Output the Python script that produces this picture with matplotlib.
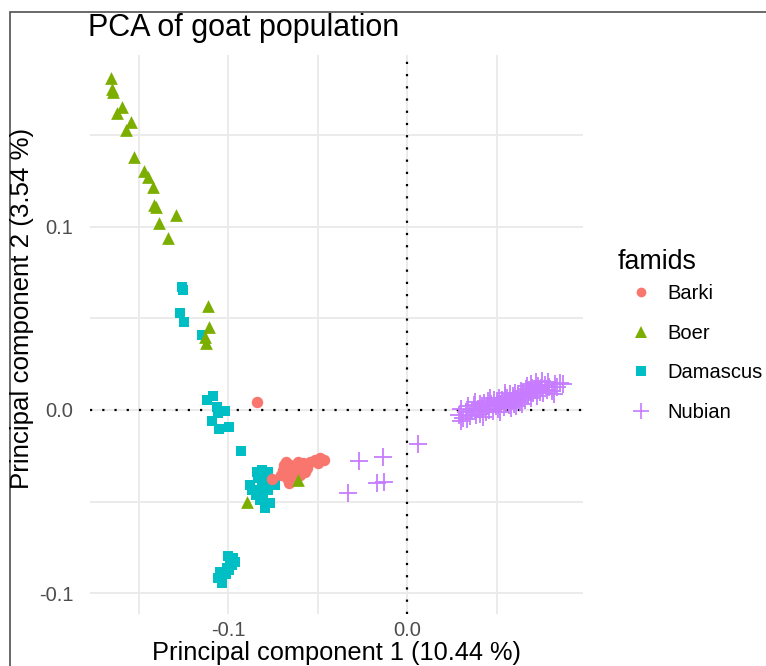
import matplotlib
matplotlib.use("Agg")
import matplotlib.pyplot as plt
from matplotlib.lines import Line2D
from matplotlib.patches import Rectangle

plt.rcParams['font.family'] = ['Liberation Sans', 'DejaVu Sans']

title = "PCA of goat population"
xlabel = "Principal component 1 (10.44 %)"
ylabel = "Principal component 2 (3.54 %)"
legend_title = "famids"
groups = ["Barki", "Boer", "Damascus", "Nubian"]
colors = {"Barki": "#F8766D", "Boer": "#7CAE00", "Damascus": "#00BFC4", "Nubian": "#C77CFF"}

xticks = [-0.1, 0.0]
xtick_labels = ["-0.1", "0.0"]
yticks = [-0.1, 0.0, 0.1]
ytick_labels = ["-0.1", "0.0", "0.1"]

barki_x = [-0.0840, -0.0756, -0.0693, -0.0670, -0.0654, -0.0637, -0.0615, -0.0598, -0.0581,
           -0.0559, -0.0542, -0.0514, -0.0486, -0.0464, -0.0676, -0.0626, -0.0642, -0.0609,
           -0.0570, -0.0497, -0.0704, -0.0659, -0.0690, -0.0665]
barki_y = [0.0045, -0.0376, -0.0327, -0.0371, -0.0300, -0.0343, -0.0316, -0.0354, -0.0289,
           -0.0316, -0.0283, -0.0272, -0.0262, -0.0272, -0.0283, -0.0381, -0.0327, -0.0283,
           -0.0338, -0.0289, -0.0354, -0.0398, -0.0300, -0.0350]

boer_x = [-0.1655, -0.1650, -0.1641, -0.1591, -0.1618, -0.1542, -0.1572, -0.1523, -0.1468,
          -0.1449, -0.1421, -0.1413, -0.1402, -0.1291, -0.1384, -0.1334, -0.1110, -0.1106,
          -0.1128, -0.1125, -0.0896, -0.0607]
boer_y = [0.1808, 0.1748, 0.1735, 0.1653, 0.1620, 0.1571, 0.1526, 0.1380, 0.1302,
          0.1271, 0.1214, 0.1117, 0.1105, 0.1061, 0.1021, 0.0936, 0.0567, 0.0454,
          0.0400, 0.0367, -0.0500, -0.0381]

damascus_x = [-0.1255, -0.1250, -0.1268, -0.1246, -0.1147, -0.1119, -0.1082, -0.1060, -0.1017,
              -0.1054, -0.1091, -0.1049, -0.0994, -0.0927,
              -0.0832, -0.0793, -0.0810, -0.0777, -0.0844, -0.0866, -0.0821, -0.0765, -0.0793,
              -0.0754, -0.0737, -0.0877, -0.0810, -0.0777, -0.0838, -0.0804,
              -0.1000, -0.0972, -0.0978, -0.1006, -0.1011, -0.1034, -0.1056, -0.1034, -0.0994,
              -0.0961, -0.0989, -0.1045]
damascus_y = [0.0672, 0.0654, 0.0530, 0.0481, 0.0409, 0.0054, 0.0076, 0.0018, -0.0004,
              -0.0018, -0.0060, -0.0105, -0.0091, -0.0222,
              -0.0371, -0.0354, -0.0409, -0.0436, -0.0463, -0.0436, -0.0490, -0.0507, -0.0534,
              -0.0381, -0.0409, -0.0409, -0.0327, -0.0338, -0.0338, -0.0463,
              -0.0796, -0.0807, -0.0845, -0.0861, -0.0894, -0.0916, -0.0916, -0.0943, -0.0872,
              -0.0828, -0.0817, -0.0883]

nubian_x = [0.0063, -0.0266, -0.0132, -0.0169, -0.0128, -0.0331,
            0.0290, 0.0300, 0.0315, 0.0330, 0.0340, 0.0350, 0.0365, 0.0375, 0.0385, 0.0395,
            0.0405, 0.0410, 0.0420, 0.0430, 0.0440, 0.0445, 0.0455, 0.0460, 0.0470, 0.0480,
            0.0485, 0.0495, 0.0500, 0.0510, 0.0515, 0.0525, 0.0530, 0.0540, 0.0545, 0.0555,
            0.0560, 0.0570, 0.0575, 0.0585, 0.0590, 0.0600, 0.0605, 0.0615, 0.0620, 0.0630,
            0.0635, 0.0645, 0.0650, 0.0660, 0.0665, 0.0675, 0.0680, 0.0690, 0.0700, 0.0705,
            0.0715, 0.0725, 0.0730, 0.0740, 0.0750, 0.0760, 0.0770, 0.0780, 0.0795, 0.0810,
            0.0825, 0.0840, 0.0855, 0.0870, 0.0755, 0.0380, 0.0300, 0.0520, 0.0610, 0.0690,
            0.0335, 0.0425, 0.0465, 0.0550, 0.0580, 0.0640, 0.0670, 0.0720, 0.0785, 0.0820]
nubian_y = [-0.0185, -0.0276, -0.0258, -0.0396, -0.0392, -0.0451,
            -0.0030, 0.0005, -0.0045, -0.0010, 0.0020, -0.0035, -0.0005, 0.0025, -0.0025, 0.0005,
            0.0035, -0.0020, 0.0010, 0.0040, -0.0010, 0.0020, 0.0050, 0.0000, 0.0030, -0.0005,
            0.0055, 0.0020, 0.0045, 0.0005, 0.0065, 0.0030, 0.0055, 0.0015, 0.0075, 0.0040,
            0.0065, 0.0025, 0.0085, 0.0050, 0.0075, 0.0035, 0.0095, 0.0060, 0.0085, 0.0045,
            0.0105, 0.0070, 0.0095, 0.0055, 0.0115, 0.0080, 0.0105, 0.0065, 0.0120, 0.0090,
            0.0110, 0.0075, 0.0130, 0.0100, 0.0120, 0.0090, 0.0135, 0.0110, 0.0125, 0.0105,
            0.0140, 0.0125, 0.0145, 0.0140, 0.0160, 0.0045, -0.0060, -0.0010, 0.0020, 0.0140,
            -0.0050, -0.0040, 0.0065, 0.0090, 0.0010, 0.0030, 0.0130, 0.0150, 0.0155, 0.0085]

W, H = 766, 666
fig = plt.figure(figsize=(W / 100, H / 100), dpi=100)
fig.patch.set_facecolor("white")

# outer screenshot frame
fig.patches.append(Rectangle((10 / W, -0.05), 1.2, 1 - 12 / H + 0.05, transform=fig.transFigure,
                             fill=False, ec="#505050", lw=1.2, zorder=0))

ax = fig.add_axes([90 / W, 1 - 614 / H, (583 - 90) / W, (614 - 55) / H])
ax.set_facecolor("white")
for s in ax.spines.values():
    s.set_visible(False)

ax.set_xlim(-0.1771, 0.0983)
ax.set_ylim(-0.1112, 0.1935)

grid_c = "#EBEBEB"
ax.set_xticks(xticks)
ax.set_xticklabels(xtick_labels)
ax.set_yticks(yticks)
ax.set_yticklabels(ytick_labels)
ax.set_xticks([-0.15, -0.05, 0.05], minor=True)
ax.set_yticks([-0.05, 0.05, 0.15], minor=True)
ax.grid(True, which="major", color=grid_c, lw=1.4, zorder=0)
ax.grid(True, which="minor", color=grid_c, lw=1.4, zorder=0)
ax.set_axisbelow(True)
ax.tick_params(which="both", length=0, labelsize=14.5, labelcolor="#4D4D4D")
ax.tick_params(axis="x", pad=5)
ax.tick_params(axis="y", pad=12)

ax.axhline(0, color="black", lw=1.6, linestyle=(0, (1, 4.5)), zorder=1)
ax.axvline(0, color="black", lw=1.6, linestyle=(0, (1, 4.5)), zorder=1)

ax.scatter(damascus_x, damascus_y, marker="s", s=60, color=colors["Damascus"], lw=0, zorder=3)
ax.scatter(barki_x, barki_y, marker="o", s=68, color=colors["Barki"], lw=0, zorder=3)
ax.scatter(boer_x, boer_y, marker="^", s=84, color=colors["Boer"], lw=0, zorder=3)
ax.scatter(nubian_x, nubian_y, marker="+", s=185, color=colors["Nubian"], lw=1.3, zorder=3)

fig.text(88 / W, 1 - 36 / H, title, fontsize=22, ha="left", va="baseline", color="black")
ax.set_xlabel(xlabel, fontsize=18.3, labelpad=1, color="black")
fig.text(22 / W, 1 - 308 / H, ylabel, fontsize=18.6, rotation=90, ha="center", va="center",
         color="black")

fig.text(618 / W, 1 - 262 / H, legend_title, fontsize=19.3, ha="left", va="center", color="black")

handles = [
    Line2D([], [], ls="", marker="o", ms=7, color=colors["Barki"], mew=0),
    Line2D([], [], ls="", marker="^", ms=8, color=colors["Boer"], mew=0),
    Line2D([], [], ls="", marker="s", ms=7, color=colors["Damascus"], mew=0),
    Line2D([], [], ls="", marker="+", ms=11, color=colors["Nubian"], mew=1.2),
]
leg = ax.legend(handles, groups, loc="upper left",
                bbox_to_anchor=(621 / W, 1 - 280 / H), bbox_transform=fig.transFigure,
                frameon=False, fontsize=14.5, labelspacing=1.02,
                handletextpad=0.5, handlelength=1.6, borderpad=0.2, borderaxespad=0)

fig.savefig("out.png", dpi=100, facecolor="white")
